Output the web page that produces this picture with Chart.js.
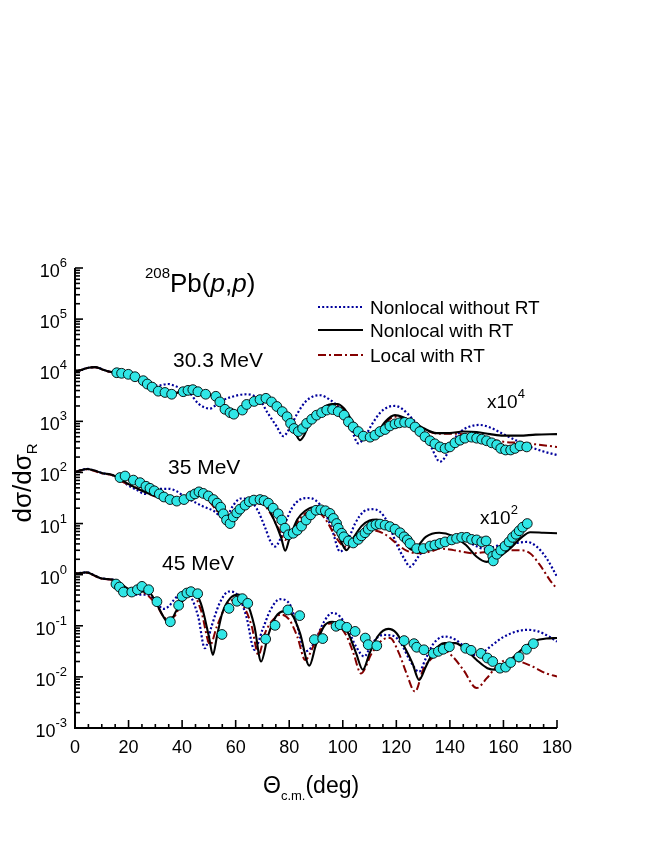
<!DOCTYPE html>
<html>
<head>
<meta charset="utf-8">
<script src="https://cdn.jsdelivr.net/npm/chart.js@4.4.1/dist/chart.umd.min.js"></script>
<style>
html,body{margin:0;padding:0;background:#fff;}
canvas{display:block;}
</style>
</head>
<body>
<canvas id="c" width="664" height="860"></canvas>
<script>
// ---- tick labels ----
const xTickLabels = [0, 20, 40, 60, 80, 100, 120, 140, 160, 180];
const yDecadeExps = [-3, -2, -1, 0, 1, 2, 3, 4, 5, 6];

// ---- 30.3 MeV (x10^4) ----
const exp303 = [[15.6,8930],[17.4,8710],[19.9,8320],[22.4,7460],[25.5,6240],[27.0,5370],[28.8,4680],[31.1,3890],[33.6,3670],[36.1,3390],[40.4,3800],[42.2,4030],[44.0,4170],[45.9,3800],[48.8,3390],[52.6,3090],[54.1,2400],[56.0,1720],[57.9,1480],[59.3,1380],[62.5,1660],[64.1,2140],[66.9,2450],[69.1,2660],[71.3,2820],[73.4,2400],[75.4,1950],[77.4,1550],[79.2,1230],[80.5,912],[81.8,724],[83.4,631],[85.0,724],[86.5,912],[88.4,1100],[90.2,1320],[92.1,1480],[94.0,1660],[96.2,1700],[98.3,1550],[100.5,1320],[102.1,977],[103.9,776],[105.8,631],[107.7,513],[110.2,490],[112.0,537],[113.9,631],[115.8,692],[117.6,813],[119.5,891],[121.1,933],[123.1,955],[125.1,933],[127.0,776],[128.8,631],[130.7,501],[132.6,417],[134.4,363],[136.3,316],[138.2,295],[140.0,316],[141.9,380],[143.8,427],[145.6,468],[148.1,490],[150.0,468],[151.9,447],[153.7,417],[155.6,380],[157.5,347],[159.0,295],[160.8,275],[162.7,275],[164.3,295],[166.2,331],[168.7,316]];
const nlRT303 = [[0,9330],[2,10000],[5,11200],[7.5,11500],[10,10500],[13,9330],[16,8910],[19,8320],[22,7410],[25,6170],[28,4790],[31,3890],[34,3550],[37,3550],[40,3890],[43,4170],[46,3890],[49,3470],[52,3020],[55,2140],[57.5,1480],[59.5,1320],[62,1580],[65,2240],[68,2690],[71,2880],[74,2400],[77,1660],[80,1000],[82.5,562],[84,427],[85.5,525],[87.5,891],[90,1410],[93,1910],[96,2190],[98,2190],[100.5,1780],[103,1120],[106,661],[108.5,468],[110.5,447],[113,603],[116,1000],[119.5,1320],[123,1170],[126,977],[130,741],[135,589],[140,589],[145,631],[150,617],[155,562],[160,525],[166,525],[172,550],[180,562]];
const locRT303 = [[0,9330],[2,10000],[5,11100],[7.5,11400],[10,10400],[13,9330],[16,8850],[19,8130],[22,7240],[25,6030],[28,4790],[31,3890],[34,3550],[37,3550],[40,3800],[43,4070],[46,3800],[49,3390],[52,2950],[55,2190],[57.5,1620],[59.5,1480],[62,1660],[65,2190],[68,2570],[71,2690],[74,2290],[77,1620],[80,1100],[83,710],[85,760],[87.5,1000],[90,1380],[93,1820],[96,2090],[98,2090],[100.5,1700],[103,1100],[106,690],[108.5,520],[110.5,500],[113,630],[116,950],[119.5,1230],[123,1120],[126,940],[130,720],[135,575],[140,570],[145,560],[150,500],[155,447],[160,398],[166,380],[172,355],[180,316]];
const nlNoRT303 = [[0,9330],[2,10000],[5,11200],[7.5,11500],[10,10500],[13,9330],[16,8710],[19,7940],[22,6760],[25,5750],[28,5130],[31,5010],[34.8,5370],[37,5010],[40,4270],[43,3470],[46,2240],[50.4,1780],[54,2400],[58,2950],[64,3390],[69,2630],[72,1450],[75.3,794],[77.8,513],[80,708],[83,1410],[86,2400],[89,3090],[91.5,3240],[95,2690],[99,1780],[101,1260],[103,759],[105.8,372],[108,479],[111,891],[114,1480],[117,1910],[119.5,2000],[122,1780],[126,1120],[130,631],[133,316],[136.3,162],[138.5,209],[141,398],[144,631],[147.5,794],[151,851],[155,759],[160,562],[165,417],[170,316],[175,257],[180,219]];

// ---- 35 MeV (x10^2) ----
const exp35 = [[16.8,79.4],[18.7,85.1],[21.8,70.8],[24.3,63.1],[26.5,53.7],[28.0,49.0],[29.6,43.7],[31.5,38.0],[33.2,33.1],[35.5,29.5],[38.0,27.5],[40.7,29.5],[43.3,34.7],[44.8,38.0],[46.3,41.7],[47.9,38.9],[49.8,34.7],[51.7,29.5],[53.1,25.1],[54.4,20.9],[55.4,15.5],[56.6,11.7],[57.9,10.0],[59.1,13.5],[60.4,16.2],[61.6,19.1],[63.5,22.9],[65.1,26.9],[66.8,28.8],[69.1,29.5],[70.6,28.2],[72.2,25.1],[74.0,20.0],[75.9,15.5],[77.2,11.7],[78.4,8.13],[79.7,6.03],[81.5,6.46],[83.0,7.41],[84.6,8.91],[86.3,11.7],[88.0,14.8],[90.0,18.2],[91.8,18.6],[93.5,17.8],[95.2,15.8],[96.5,12.6],[97.7,10.0],[98.3,8.13],[99.6,6.46],[100.4,5.50],[102.1,4.57],[103.9,4.17],[105.8,4.90],[107.0,5.75],[108.3,6.61],[109.5,7.76],[110.8,8.91],[112.4,9.55],[113.9,9.77],[115.8,9.33],[117.6,8.71],[119.5,7.76],[121.4,6.61],[122.9,5.50],[124.1,4.79],[125.1,4.07],[127.6,3.24],[130.1,3.24],[132.6,3.63],[134.4,3.80],[136.3,4.07],[138.2,4.37],[140.7,4.79],[142.5,5.13],[144.4,5.37],[146.3,5.37],[148.1,4.90],[150.0,4.79],[151.9,4.37],[153.5,4.57],[154.7,3.02],[156.0,2.29],[156.2,1.86],[157.5,2.51],[159.0,3.02],[160.6,3.63],[162.1,4.37],[163.4,5.37],[164.7,6.17],[165.9,7.24],[167.2,8.51],[168.9,10.0]];
const nlRT35 = [[0,102],[2,110],[4.5,117],[7,110],[10,97.7],[14,89.1],[17,74.1],[20,58.9],[25,43.7],[30,34.7],[35,30.2],[40,30.2],[43,37.2],[46,41.7],[49,35.5],[52,22.9],[55,13.2],[57.5,9.55],[60,14.1],[63,21.9],[66,30.2],[68.5,32.4],[71,25.7],[74,12.9],[77,5.25],[78.5,2.95],[80,4.90],[83,12.0],[86,17.8],[89,20.9],[92,18.6],[95,13.5],[98,6.61],[101.4,3.02],[104,5.25],[107,8.91],[110,11.5],[112.6,12.0],[116,10.2],[119,7.94],[122,5.50],[125.7,3.09],[128,3.63],[131,5.50],[136,6.61],[141,5.75],[146,3.80],[150,2.24],[153.7,1.78],[157,2.00],[162.5,3.24],[167,5.50],[170,6.76],[175,6.61],[180,6.46]];
const locRT35 = [[0,102],[2,109],[4.5,115],[7,108],[10,96],[14,88],[18,64.6],[22,52.5],[26,41.7],[30,33.9],[35,28.8],[40,28.8],[44,33.9],[47,35.5],[50,27.5],[53,17.8],[56,12.0],[58,10.5],[61,14.1],[64,20.9],[67,25.1],[70,24.0],[73,15.8],[76,7.94],[78.5,4.79],[81,7.08],[84,12.6],[87,16.6],[90,17.4],[93,13.2],[95.2,8.71],[97.7,5.13],[100.8,3.55],[104,4.37],[107.7,6.92],[110.8,7.41],[115.1,6.46],[120.1,4.07],[123.8,2.95],[127.6,2.63],[132.6,2.82],[136.3,3.24],[141.3,3.02],[148.8,2.63],[155,2.82],[161.2,3.02],[165.3,3.02],[169.9,2.63],[173.6,1.55],[177.4,0.776],[180,0.525]];
const nlNoRT35 = [[0,102],[2,110],[4.5,117],[7,110],[10,97.7],[14,89.1],[17,72.4],[20,55.0],[23,45.7],[26,38.0],[29,42.7],[32,47.9],[35,47.9],[38,42.7],[41,33.1],[44,27.5],[48,21.4],[52,17.4],[55,13.2],[57,14.5],[59,22.4],[62,30.9],[65,28.8],[68,19.1],[71,8.32],[73,4.47],[74.7,3.55],[76.5,4.79],[78.5,10.0],[81,20.0],[84,29.5],[87,31.6],[90,28.2],[93,17.8],[96,7.59],[99,2.82],[101.5,4.17],[104.6,10.0],[107.7,17.0],[110.8,19.1],[113.9,17.0],[117,10.0],[120,4.07],[123.2,1.95],[125.1,1.43],[128.2,2.24],[131.3,3.55],[134,4.37],[138,5.01],[141,5.13],[145,4.79],[149,3.80],[152.5,3.24],[156,3.47],[160,3.98],[164.7,4.17],[168.7,4.37],[172.4,3.55],[176.1,2.09],[180,0.912]];

// ---- 45 MeV (x1) ----
const exp45 = [[15.3,0.656],[16.6,0.573],[18.1,0.457],[21.2,0.457],[23.3,0.508],[25.0,0.590],[27.5,0.508],[30.6,0.296],[35.6,0.120],[38.7,0.251],[40.0,0.376],[41.8,0.437],[43.3,0.465],[45.8,0.424],[54.9,0.0676],[57.5,0.219],[60.5,0.302],[62.5,0.339],[64.5,0.275],[71.2,0.0550],[74.7,0.102],[79.5,0.204],[83.9,0.158],[89.4,0.0537],[92.5,0.0562],[97.5,0.0977],[99.0,0.105],[101.5,0.0933],[104.6,0.0776],[108.4,0.0575],[109.5,0.0427],[112.7,0.0407],[122.9,0.0513],[126.6,0.0447],[127.6,0.0380],[130.3,0.0339],[133.8,0.0288],[135.7,0.0316],[137.5,0.0347],[139.8,0.0389],[145.9,0.0363],[147.9,0.0331],[151.6,0.0288],[154.0,0.0234],[156.0,0.0200],[158.7,0.0148],[160.8,0.0155],[162.7,0.0191],[165.8,0.0245],[168.6,0.0347],[171.2,0.0447]];
const nlRT45 = [[0,1.05],[2,1.08],[4.4,1.11],[7,0.98],[9.3,0.861],[12,0.82],[14.3,0.794],[17,0.676],[19.3,0.550],[22,0.479],[25,0.468],[28,0.437],[30,0.302],[33,0.151],[35,0.112],[38,0.204],[42,0.407],[44,0.468],[47,0.275],[50,0.0617],[51.5,0.0269],[53,0.0617],[55,0.178],[58,0.347],[61,0.407],[64,0.302],[67,0.0977],[69.5,0.0200],[72,0.0617],[75,0.151],[78,0.191],[81,0.166],[84,0.0724],[87.5,0.0166],[90,0.0427],[93,0.0977],[96,0.120],[99,0.112],[102,0.0724],[105,0.0288],[107.5,0.0138],[110,0.0288],[113,0.0617],[117,0.0871],[120,0.0724],[123,0.0389],[126,0.0186],[128.5,0.0087],[131,0.0158],[134,0.0316],[138,0.0457],[142,0.0457],[146,0.0339],[150,0.0214],[154,0.0148],[157,0.0138],[160,0.0174],[164,0.0251],[168,0.0389],[172,0.0513],[176,0.0562],[180,0.0575]];
const locRT45 = [[0,1.05],[2,1.07],[4.4,1.09],[7,0.97],[9.3,0.85],[12,0.81],[14.3,0.78],[17,0.661],[20,0.457],[25,0.447],[30,0.275],[34,0.141],[37,0.151],[40,0.302],[44,0.407],[47,0.204],[50.5,0.0427],[53,0.0977],[57,0.275],[60,0.324],[63,0.240],[66,0.0977],[68.5,0.0269],[71,0.0724],[74,0.132],[77,0.166],[80,0.132],[83,0.0617],[86,0.0214],[89,0.0398],[92.7,0.0977],[97,0.112],[101.5,0.0617],[104,0.0288],[106.8,0.0117],[110.8,0.0288],[115,0.0537],[117.6,0.0575],[121,0.0288],[123.8,0.0117],[127,0.00513],[130,0.0138],[134,0.0251],[137.5,0.0339],[141,0.0251],[145,0.0138],[150,0.00603],[153.7,0.00933],[157.4,0.0158],[161,0.0214],[166,0.0200],[171,0.0158],[176,0.0117],[180,0.0102]];
const nlNoRT45 = [[0,1.05],[2,1.08],[4.4,1.11],[7,0.98],[9.3,0.861],[12,0.82],[14.3,0.794],[17,0.676],[20,0.437],[24,0.407],[27,0.407],[30,0.302],[33,0.214],[35,0.240],[37,0.324],[40,0.437],[43,0.380],[46,0.151],[48.5,0.0363],[51,0.0977],[54,0.275],[57.5,0.468],[61,0.380],[64,0.151],[67,0.0339],[70,0.0832],[73,0.204],[76.5,0.331],[80,0.275],[83,0.0977],[86,0.0316],[88,0.0363],[90,0.0550],[93,0.120],[96,0.178],[99,0.151],[102,0.0832],[105,0.0389],[108,0.0251],[111,0.0457],[115,0.0661],[119,0.0631],[122,0.0427],[125,0.0214],[128.5,0.0126],[131,0.0229],[134,0.0457],[138,0.0617],[142,0.0537],[146,0.0363],[149,0.0269],[152,0.0295],[156,0.0427],[160,0.0603],[165,0.0776],[169,0.0832],[173,0.0776],[177,0.0617],[180,0.0490]];

const legendLabels = ['Nonlocal without RT', 'Nonlocal with RT', 'Local with RT'];

const FONT = '"Liberation Sans", Arial, Helvetica, sans-serif';
const C_BLUE = '#00009c', C_BLACK = '#000000', C_RED = '#840000', C_CYAN = '#30e6e6';
const DASH_BLUE = [2, 2.2], DASH_RED = [8, 3, 2, 3];

const toXY = arr => arr.map(p => ({x: p[0], y: p[1]}));
function curve(arr, color, dash, order, width) {
  return {data: toXY(arr), borderColor: color, borderWidth: width, borderDash: dash,
    pointRadius: 0, fill: false, showLine: true, cubicInterpolationMode: 'monotone', order: order, borderCapStyle: 'butt'};
}
function pts(arr) {
  return {data: toXY(arr), showLine: false, pointRadius: 4.9, pointBackgroundColor: C_CYAN,
    pointBorderColor: '#000', pointBorderWidth: 0.9, borderColor: '#000', order: 0};
}

const datasets = [
  pts(exp303), pts(exp35), pts(exp45),
  curve(nlRT303, C_BLACK, [], 1, 2.1), curve(nlRT35, C_BLACK, [], 1, 2.1), curve(nlRT45, C_BLACK, [], 1, 2.1),
  curve(locRT303, C_RED, DASH_RED, 2, 2), curve(locRT35, C_RED, DASH_RED, 2, 2), curve(locRT45, C_RED, DASH_RED, 2, 2),
  curve(nlNoRT303, C_BLUE, DASH_BLUE, 3, 2.2), curve(nlNoRT35, C_BLUE, DASH_BLUE, 3, 2.2), curve(nlNoRT45, C_BLUE, DASH_BLUE, 3, 2.2)
];

function textRuns(ctx, runs, x, y) {
  let cx = x;
  for (const r of runs) {
    ctx.font = r[1];
    ctx.fillText(r[0], cx, y + (r[2] || 0));
    cx += ctx.measureText(r[0]).width;
  }
  return cx;
}
function runsWidth(ctx, runs) {
  let w = 0;
  for (const r of runs) { ctx.font = r[1]; w += ctx.measureText(r[0]).width; }
  return w;
}

const decor = {
  id: 'decor',
  afterDraw(chart) {
    const ctx = chart.ctx, xs = chart.scales.x, ys = chart.scales.y, a = chart.chartArea;
    ctx.save();
    ctx.fillStyle = '#000';
    ctx.strokeStyle = '#000';
    ctx.textBaseline = 'alphabetic';
    ctx.lineWidth = 2;
    ctx.beginPath();
    ctx.moveTo(a.left, a.top); ctx.lineTo(a.left, a.bottom); ctx.lineTo(a.right, a.bottom);
    ctx.stroke();
    ctx.lineWidth = 1.6;
    for (let v = xTickLabels[0]; v <= xTickLabels[xTickLabels.length - 1]; v += 5) {
      const px = xs.getPixelForValue(v);
      const major = xTickLabels.includes(v);
      ctx.beginPath(); ctx.moveTo(px, a.bottom); ctx.lineTo(px, a.bottom - (major ? 8 : 4)); ctx.stroke();
    }
    ctx.font = '18px ' + FONT; ctx.textAlign = 'center';
    for (const v of xTickLabels) ctx.fillText(String(v), xs.getPixelForValue(v), a.bottom + 25);
    for (let i = 0; i < yDecadeExps.length; i++) {
      const e = yDecadeExps[i];
      const py = ys.getPixelForValue(Math.pow(10, e));
      ctx.beginPath(); ctx.moveTo(a.left, py); ctx.lineTo(a.left + 8, py); ctx.stroke();
      if (i < yDecadeExps.length - 1) {
        for (let m = 2; m <= 9; m++) {
          const pm = ys.getPixelForValue(m * Math.pow(10, e));
          ctx.beginPath(); ctx.moveTo(a.left, pm); ctx.lineTo(a.left + 5, pm); ctx.stroke();
        }
      }
      ctx.textAlign = 'right';
      ctx.font = '13px ' + FONT;
      const sup = String(e);
      ctx.fillText(sup, a.left - 8, py - 1);
      const sw = ctx.measureText(sup).width;
      ctx.font = '18px ' + FONT;
      ctx.fillText('10', a.left - 8 - sw, py + 9);
    }
    ctx.textAlign = 'left';
    textRuns(ctx, [['\u0398', '23px ' + FONT, 0], ['c.m.', '13px ' + FONT, 7], ['(deg)', '23px ' + FONT, 0]], 263, a.bottom + 65);
    ctx.save();
    ctx.translate(31, 483);
    ctx.rotate(-Math.PI / 2);
    const yRuns = [['d\u03c3/d\u03c3', '26px ' + FONT, 0], ['R', '15px ' + FONT, 6]];
    textRuns(ctx, yRuns, -runsWidth(ctx, yRuns) / 2, 0);
    ctx.restore();
    textRuns(ctx, [['208', '15px ' + FONT, -14], ['Pb(', '26px ' + FONT, 0], ['p', 'italic 26px ' + FONT, 0], [',', '26px ' + FONT, 0], ['p', 'italic 26px ' + FONT, 0], [')', '26px ' + FONT, 0]], 145, 292);
    ctx.font = '21px ' + FONT;
    ctx.fillText('30.3 MeV', 173, 367);
    ctx.fillText('35 MeV', 168, 474);
    ctx.fillText('45 MeV', 162, 570);
    textRuns(ctx, [['x10', '19px ' + FONT, 0], ['4', '13px ' + FONT, -10]], 487, 408);
    textRuns(ctx, [['x10', '19px ' + FONT, 0], ['2', '13px ' + FONT, -10]], 480, 524);
    const lg = [[C_BLUE, DASH_BLUE, 2.2, 307], [C_BLACK, [], 2, 330], [C_RED, DASH_RED, 2, 355]];
    for (let i = 0; i < lg.length; i++) {
      const [col, dash, w, ly] = lg[i];
      ctx.strokeStyle = col; ctx.lineWidth = w; ctx.setLineDash(dash);
      ctx.beginPath(); ctx.moveTo(318, ly); ctx.lineTo(363, ly); ctx.stroke();
      ctx.setLineDash([]);
      ctx.fillStyle = '#000';
      ctx.font = '19px ' + FONT;
      ctx.fillText(legendLabels[i], 370, ly + 7);
    }
    ctx.restore();
  }
};

new Chart(document.getElementById('c'), {
  type: 'line',
  data: {datasets: datasets},
  options: {
    responsive: false,
    animation: false,
    devicePixelRatio: 1,
    layout: {padding: {left: 75, right: 107, top: 268, bottom: 132}},
    plugins: {legend: {display: false}, tooltip: {enabled: false}, title: {display: false}},
    scales: {
      x: {type: 'linear', min: 0, max: 180, display: false},
      y: {type: 'logarithmic', min: 1e-3, max: 1e6, display: false}
    },
    elements: {line: {tension: 0}}
  },
  plugins: [decor]
});
</script>
</body>
</html>
